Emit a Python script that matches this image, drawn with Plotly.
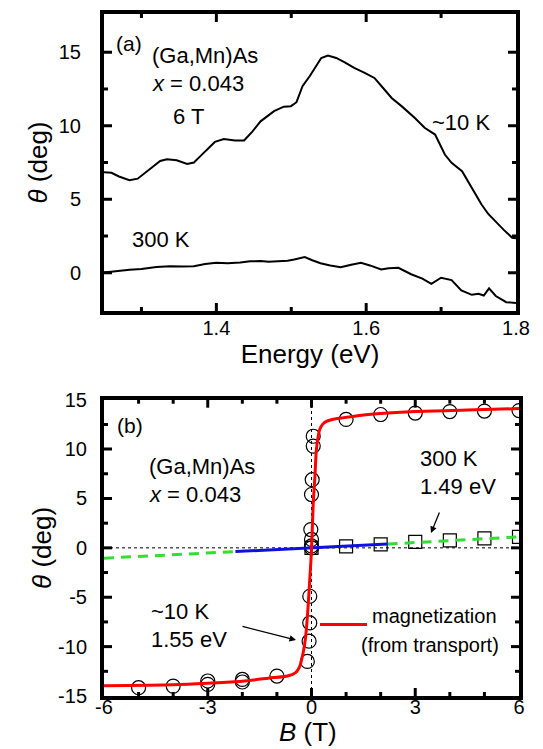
import plotly.graph_objects as go

# ---------------- data: panel (a) Kerr rotation spectra at 6 T ----------------
energy_10K = [1.248, 1.26, 1.27, 1.284, 1.295, 1.31, 1.325, 1.334, 1.347, 1.361, 1.37, 1.378,
              1.39, 1.398, 1.41, 1.425, 1.437, 1.448, 1.459, 1.477, 1.49, 1.4995, 1.507, 1.515,
              1.525, 1.533, 1.54, 1.549, 1.56, 1.572, 1.584, 1.598, 1.611, 1.622, 1.634, 1.648,
              1.665, 1.678, 1.692, 1.705, 1.714, 1.728, 1.741, 1.754, 1.763, 1.772, 1.784, 1.795, 1.8]
theta_10K = [6.85, 6.8, 6.55, 6.3, 6.4, 7.0, 7.6, 7.72, 7.65, 7.4, 7.5, 7.9,
             8.5, 8.9, 9.1, 9.0, 9.0, 9.6, 10.3, 10.99, 11.3, 11.33, 11.6, 12.69,
             13.4, 14.05, 14.61, 14.77, 14.61, 14.3, 13.93, 13.6, 13.25, 12.6, 11.89, 11.3,
             10.53, 9.86, 9.4, 8.04, 7.48, 6.91, 5.8, 4.64, 4.0, 3.51, 2.9, 2.38, 2.35]

energy_300K = [1.248, 1.265, 1.284, 1.30, 1.32, 1.338, 1.355, 1.37, 1.385, 1.40, 1.415, 1.432,
               1.445, 1.459, 1.47, 1.482, 1.495, 1.504, 1.518, 1.528, 1.539, 1.552, 1.566, 1.58,
               1.593, 1.605, 1.62, 1.63, 1.643, 1.66, 1.675, 1.687, 1.70, 1.714, 1.727, 1.741,
               1.75, 1.757, 1.764, 1.773, 1.787, 1.80]
theta_300K = [0.0, 0.1, 0.2, 0.25, 0.4, 0.45, 0.42, 0.45, 0.6, 0.68, 0.65, 0.7,
              0.78, 0.8, 0.75, 0.79, 0.82, 0.9, 1.07, 0.85, 0.65, 0.5, 0.38, 0.55,
              0.68, 0.5, 0.22, 0.3, 0.34, -0.1, -0.4, -0.75, -0.34, -0.5, -1.2, -1.5,
              -1.43, -1.55, -1.06, -1.58, -2.0, -2.05]

# ---------------- data: panel (b) field dependence ----------------
B_10K = [-5, -4, -3, -3, -2, -2, -1, -0.12, -0.07, -0.05, -0.05, 0, 0, 0, -0.02, 0, 0.02,
         0.05, 0.05, 1, 2, 3, 4, 5, 6]
theta_B_10K = [-14.16, -14.0, -13.82, -13.48, -13.58, -13.32, -12.98, -11.5, -9.45, -7.6, -4.9,
               0.0, 0.2, 0.85, 1.85, 5.4, 6.9, 10.3, 11.3, 13.0, 13.5, 13.65, 13.8, 13.85, 13.9]

B_300K = [0, 1, 2, 3, 4, 5, 6]
theta_B_300K = [0.0, 0.15, 0.35, 0.6, 0.75, 0.95, 1.12]

B_mag = [-6, -4, -3, -2, -1.25, -0.67, -0.45, -0.34, -0.24, -0.18, -0.14, -0.1, -0.05, 0,
         0.05, 0.1, 0.14, 0.19, 0.24, 0.32, 0.43, 0.6, 0.87, 1.64, 3, 4.5, 6]
theta_mag = [-13.95, -13.85, -13.7, -13.5, -13.2, -12.95, -12.6, -12.0, -10.6, -9.3, -7.9, -6.0,
             -3.2, -0.2, 4.5, 7.3, 9.9, 11.2, 12.0, 12.5, 12.8, 13.0, 13.15, 13.5, 13.8, 13.95, 14.1]

B_blue = [-2.2, 2.2]
theta_blue = [-0.38, 0.38]
B_green_neg = [-6, -2.2]
theta_green_neg = [-1.05, -0.38]
B_green_pos = [2.2, 6]
theta_green_pos = [0.38, 1.12]

# tick labels / tick positions
ya_vals = [0, 5, 10, 15]
ya_text = ["0", "5", "10", "15"]
ya_minor = [2.5, 7.5, 12.5]
xa_vals = [1.4, 1.6, 1.8]
xa_text = ["1.4", "1.6", "1.8"]
xa_minor = [1.3, 1.5, 1.7]
yb_vals = [-15, -10, -5, 0, 5, 10, 15]
yb_text = ["-15", "-10", "-5", "0", "5", "10", "15"]
yb_minor = [-12.5, -7.5, -2.5, 2.5, 7.5, 12.5]
xb_vals = [-6, -3, 0, 3, 6]
xb_text = ["-6", "-3", "0", "3", "6"]
xb_minor = [-5, -4, -2, -1, 1, 2, 4, 5]

# axis ranges
xa_range = [1.25, 1.8]
ya_range = [-2.6, 17.6]
xb_range = [-6, 6]
yb_range = [-15, 15]

# ---------------- layout helpers ----------------
W, H = 543, 749
ML, MR, MT, MB = 96, 32, 6, 61
PW, PH = W - ML - MR, H - MT - MB


def fx(p):
    return (p - ML) / PW


def fy(p):
    return 1 - (p - MT) / PH


FONT = "Liberation Sans, Arial, Helvetica, sans-serif"

XA_DOM = [0, fx(508)]
YA_DOM = [fy(303), 1]
XB_DOM = [0, 1]
YB_DOM = [0, fy(391.7)]

fig = go.Figure()

# panel (a)
fig.add_trace(go.Scatter(x=energy_10K, y=theta_10K, mode="lines", line=dict(color="black", width=2),
                         xaxis="x", yaxis="y", showlegend=False))
fig.add_trace(go.Scatter(x=energy_300K, y=theta_300K, mode="lines", line=dict(color="black", width=2),
                         xaxis="x", yaxis="y", showlegend=False))

# panel (b)
fig.add_trace(go.Scatter(x=B_10K, y=theta_B_10K, mode="markers",
                         marker=dict(symbol="circle-open", size=14, color="black", line=dict(width=1.2)),
                         xaxis="x2", yaxis="y2", showlegend=False))
fig.add_trace(go.Scatter(x=B_300K, y=theta_B_300K, mode="markers",
                         marker=dict(symbol="square-open", size=13, color="black", line=dict(width=1.2)),
                         xaxis="x2", yaxis="y2", showlegend=False))
fig.add_trace(go.Scatter(x=B_green_neg, y=theta_green_neg, mode="lines",
                         line=dict(color="#33dd33", width=3, dash="10px,7px"),
                         xaxis="x2", yaxis="y2", showlegend=False))
fig.add_trace(go.Scatter(x=B_green_pos, y=theta_green_pos, mode="lines",
                         line=dict(color="#33dd33", width=3, dash="10px,7px"),
                         xaxis="x2", yaxis="y2", showlegend=False))
fig.add_trace(go.Scatter(x=B_blue, y=theta_blue, mode="lines", line=dict(color="#1010dd", width=3),
                         xaxis="x2", yaxis="y2", showlegend=False))
fig.add_trace(go.Scatter(x=B_mag, y=theta_mag, mode="lines",
                         line=dict(color="#ff0000", width=3, shape="spline", smoothing=0.8),
                         xaxis="x2", yaxis="y2", showlegend=False))


def main_axis(**kw):
    ax = dict(showline=True, linewidth=4, linecolor="black", mirror=True,
              ticks="", showgrid=False, zeroline=False,
              tickfont=dict(size=20, color="black", family=FONT))
    ax.update(kw)
    return ax


fig.update_layout(
    width=W, height=H,
    margin=dict(l=ML, r=MR, t=MT, b=MB, autoexpand=False),
    paper_bgcolor="white", plot_bgcolor="white",
    font=dict(family=FONT, color="black", size=20),
    xaxis=main_axis(domain=XA_DOM, range=xa_range, anchor="y",
                    tickvals=xa_vals, ticktext=xa_text, ticklabelstandoff=-4,
                    title=dict(text="Energy (eV)", font=dict(size=26), standoff=4)),
    yaxis=main_axis(domain=YA_DOM, range=ya_range, anchor="x",
                    tickvals=ya_vals, ticktext=ya_text, ticklabelstandoff=15,
                    title=dict(text="<i>θ</i> (deg)", font=dict(size=26), standoff=5)),
    xaxis2=main_axis(domain=XB_DOM, range=xb_range, anchor="y2",
                     tickvals=xb_vals, ticktext=xb_text, ticklabelstandoff=-10),
    yaxis2=main_axis(domain=YB_DOM, range=yb_range, anchor="x2",
                     tickvals=yb_vals, ticktext=yb_text, ticklabelstandoff=9,
                     title=dict(text="<i>θ</i> (deg)", font=dict(size=26), standoff=0)),
)


# inward tick marks on all four sides of each frame, placed through the axes' own scales
def add_ticks(xid, yid, xvals, yvals, xrng, yrng, length, wpx, hpx):
    fx_len = length / wpx
    fy_len = length / hpx
    for v in xvals:
        if not (xrng[0] < v < xrng[1]):
            continue
        for y0, y1 in ((0, fy_len), (1, 1 - fy_len)):
            fig.add_shape(type="line", xref=xid, yref=yid + " domain", x0=v, x1=v, y0=y0, y1=y1,
                          line=dict(color="black", width=3), layer="above")
    for v in yvals:
        if not (yrng[0] < v < yrng[1]):
            continue
        for x0, x1 in ((0, fx_len), (1, 1 - fx_len)):
            fig.add_shape(type="line", xref=xid + " domain", yref=yid, x0=x0, x1=x1, y0=v, y1=v,
                          line=dict(color="black", width=3), layer="above")


A_W, A_H = 508 - 96, 303 - 6
B_W, B_H = PW, 688 - 391.7
add_ticks("x", "y", xa_vals, ya_vals, xa_range, ya_range, 8, A_W, A_H)
add_ticks("x", "y", xa_minor, ya_minor, xa_range, ya_range, 4, A_W, A_H)
add_ticks("x2", "y2", xb_vals, yb_vals, xb_range, yb_range, 8, B_W, B_H)
add_ticks("x2", "y2", xb_minor, yb_minor, xb_range, yb_range, 4, B_W, B_H)

# x-axis title of panel (b)
fig.add_annotation(text="<i>B</i> (T)", xref="paper", yref="paper", x=fx(300), y=fy(724),
                   xanchor="center", yanchor="middle", showarrow=False,
                   font=dict(size=26, color="black", family=FONT))

# dotted zero lines in (b)
fig.add_shape(type="line", xref="x2 domain", yref="y2", x0=0, x1=1, y0=0, y1=0,
              line=dict(color="black", width=1, dash="dot"), layer="below")
fig.add_shape(type="line", xref="x2", yref="y2 domain", x0=0, x1=0, y0=0, y1=1,
              line=dict(color="black", width=1, dash="dot"), layer="below")

# legend sample for magnetization line
fig.add_shape(type="line", xref="paper", yref="paper", x0=fx(312), x1=fx(359), y0=fy(616.5), y1=fy(616.5),
              line=dict(color="#ff0000", width=3))


def label(text, x, y, size=22, anchor="left"):
    fig.add_annotation(text=text, xref="paper", yref="paper", x=fx(x), y=fy(y),
                       xanchor=anchor, yanchor="middle", showarrow=False,
                       font=dict(size=size, color="black", family=FONT))


DY = -8  # vertical correction for text box centre vs glyph centre

# panel (a) labels
label("(a)", 106, 44 + DY, 21)
label("(Ga,Mn)As", 142, 56 + DY)
label("<i>x</i> = 0.043", 142, 83 + DY)
label("6 T", 163, 117 + DY)
label("300 K", 122, 240 + DY)
label("~10 K", 422, 123 + DY)

# panel (b) labels
label("(b)", 107, 425 + DY, 21)
label("(Ga,Mn)As", 139, 466 + DY)
label("<i>x</i> = 0.043", 139, 494 + DY)
label("~10 K", 141, 611 + DY)
label("1.55 eV", 141, 639 + DY)
label("300 K", 410, 458 + DY)
label("1.49 eV", 410, 486 + DY)
label("magnetization", 362, 616 + DY, 20)
label("(from transport)", 351, 645 + DY, 20)

# arrows
fig.add_annotation(x=fx(288), y=fy(632), xref="paper", yref="paper", text="", showarrow=True,
                   ax=233 - 288, ay=618 - 632, arrowhead=2, arrowsize=1, arrowwidth=1.3,
                   arrowcolor="black", standoff=0)
fig.add_annotation(x=fx(423), y=fy(525), xref="paper", yref="paper", text="", showarrow=True,
                   ax=432 - 423, ay=503 - 525, arrowhead=2, arrowsize=1, arrowwidth=1.3,
                   arrowcolor="black", standoff=0)

fig.write_html("out.html")
